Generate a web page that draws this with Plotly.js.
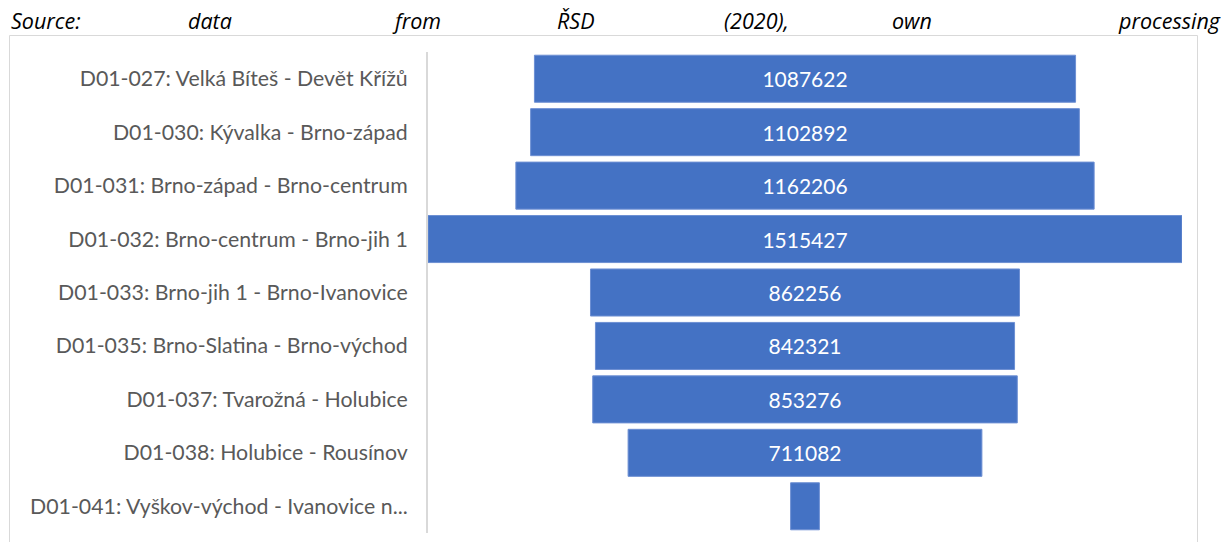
<!DOCTYPE html>
<html><head><meta charset="utf-8">
<script src="https://cdn.plot.ly/plotly-3.0.1.min.js"></script>
<style>html,body{margin:0;padding:0;background:#fff;}#chart{width:1221px;height:542px;}</style>
</head><body><div id="chart"></div>
<script>
const segments = [
  "D01-027: Velká Bíteš - Devět Křížů",
  "D01-030: Kývalka - Brno-západ",
  "D01-031: Brno-západ - Brno-centrum",
  "D01-032: Brno-centrum - Brno-jih 1",
  "D01-033: Brno-jih 1 - Brno-Ivanovice",
  "D01-035: Brno-Slatina - Brno-východ",
  "D01-037: Tvarožná - Holubice",
  "D01-038: Holubice - Rousínov",
  "D01-041: Vyškov-východ - Ivanovice n..."
];
const vehicles = [1087622, 1102892, 1162206, 1515427, 862256, 842321, 853276, 711082, 57800];
const sourceWords = ["Source:", "data", "from", "ŘSD", "(2020),", "own", "processing"];

const W = 1221, H = 542;
const mL = 428, mR = 39, mT = 52, mB = 9;
const pw = W - mL - mR, ph = H - mT - mB;
const px = p => (p - mL) / pw;
const py = p => (H - mB - p) / ph;

const maxV = Math.max(...vehicles);
const wordX = [9, 186, 390, 555, 722, 890, 1223];
const annotations = sourceWords.map((w, i) => ({
  text: w, xref: 'paper', yref: 'paper',
  x: px(wordX[i]), y: py(21), xanchor: i === sourceWords.length - 1 ? 'right' : 'left', yanchor: 'middle',
  showarrow: false,
  font: {family: 'Open Sans', size: 21.5, color: '#000', style: 'italic'}
}));

const trace = {
  type: 'funnel',
  orientation: 'h',
  y: segments,
  x: vehicles,
  marker: {color: '#4472C4', line: {color: '#6d8fd3', width: 1}},
  connector: {visible: false},
  texttemplate: '%{x:.0f}',
  textposition: 'inside',
  insidetextanchor: 'middle',
  textfont: {family: 'Lato', size: 21, color: '#ffffff'},
  hoverinfo: 'x+y'
};

const layout = {
  width: W, height: H,
  margin: {l: mL, r: mR, t: mT, b: mB, pad: 0},
  paper_bgcolor: '#ffffff', plot_bgcolor: '#ffffff',
  funnelgap: 0.12,
  showlegend: false,
  uniformtext: {minsize: 18, mode: 'hide'},
  xaxis: {visible: false, range: [-maxV / 2, maxV / 2], fixedrange: true},
  yaxis: {
    showline: true, linecolor: '#d9d9d9', linewidth: 2,
    ticks: '', showgrid: false, zeroline: false,
    ticklabelstandoff: 14,
    tickfont: {family: 'Lato', size: 21.3, color: '#595959'}
  },
  shapes: [{
    type: 'rect', xref: 'paper', yref: 'paper',
    x0: px(9.5), x1: px(1197.5), y0: py(560), y1: py(35.5),
    line: {color: '#d9d9d9', width: 1}, fillcolor: 'rgba(0,0,0,0)', layer: 'below'
  }],
  annotations: annotations
};

Plotly.newPlot('chart', [trace], layout, {displayModeBar: false, staticPlot: true});
</script></body></html>
